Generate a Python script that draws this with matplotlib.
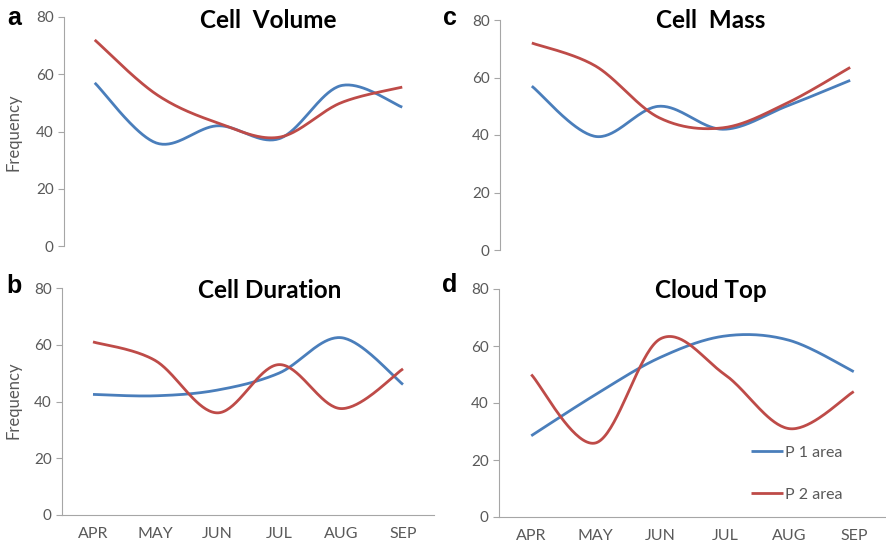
import numpy as np
import matplotlib
matplotlib.use("Agg")
import matplotlib.pyplot as plt

months = ["APR", "MAY", "JUN", "JUL", "AUG", "SEP"]

# values (frequency)
vol_p1 = [57, 36, 42, 37.5, 56, 48.5]
vol_p2 = [72, 53, 43, 38, 50, 55.5]
dur_p1 = [42.5, 42, 44, 50, 62.5, 46]
dur_p2 = [61, 54.5, 36, 53, 37.5, 51.5]
mass_p1 = [57, 39.5, 50, 42, 50, 59]
mass_p2 = [72, 64, 46, 42.5, 51, 63.5]
top_p1 = [28.5, 43, 56, 63.5, 62, 51]
top_p2 = [50, 26, 62.5, 50, 31, 44]

BLUE = "#4A7EBB"
RED = "#BE4B48"
GREY = "#595959"
AXC = "#A6A6A6"

plt.rcParams['font.family'] = ['Lato', 'DejaVu Sans']


def smooth(y, n=40):
    # excel-style smoothed line (cubic bezier, catmull-rom control points)
    y = np.asarray(y, float)
    x = np.arange(len(y), dtype=float)
    yp = np.concatenate([[y[0]], y, [y[-1]]])
    xp = np.concatenate([[x[0]], x, [x[-1]]])
    t = np.linspace(0, 1, n)[:, None]
    xs, ys = [], []
    for i in range(len(y) - 1):
        j = i + 1
        px = [xp[j], xp[j] + (xp[j+1] - xp[j-1]) / 6, xp[j+1] - (xp[j+2] - xp[j]) / 6, xp[j+1]]
        py = [yp[j], yp[j] + (yp[j+1] - yp[j-1]) / 6, yp[j+1] - (yp[j+2] - yp[j]) / 6, yp[j+1]]
        b = [(1-t)**3, 3*(1-t)**2*t, 3*(1-t)*t**2, t**3]
        xs.append(sum(b[k] * px[k] for k in range(4)).ravel())
        ys.append(sum(b[k] * py[k] for k in range(4)).ravel())
    return np.concatenate(xs), np.concatenate(ys)


W, H = 887, 552
fig = plt.figure(figsize=(W/100, H/100), dpi=100)


def make_ax(x0, x1, y0, y80, bottom_axis):
    ax = fig.add_axes([x0/W, 1 - y0/H, (x1-x0)/W, (y0-y80)/H])
    ax.set_xlim(-0.5, 5.5)
    ax.set_ylim(0, 80)
    ax.set_yticks([0, 20, 40, 60, 80])
    for s in ["top", "right"]:
        ax.spines[s].set_visible(False)
    ax.spines["left"].set_color(AXC)
    ax.spines["bottom"].set_color(AXC)
    ax.tick_params(axis="y", colors=AXC, labelcolor=GREY, labelsize=11, length=4, width=0.8)
    if bottom_axis:
        ax.set_xticks(range(len(months)))
        ax.set_xticklabels(months)
        ax.tick_params(axis="x", length=0, labelcolor=GREY, labelsize=11.5, pad=9)
    else:
        ax.spines["bottom"].set_visible(False)
        ax.set_xticks([])
    return ax


panels = [
    (make_ax(64, 433, 246, 17, False), vol_p1, vol_p2),
    (make_ax(62, 434, 515, 288, True), dur_p1, dur_p2),
    (make_ax(500, 882, 250, 20, False), mass_p1, mass_p2),
    (make_ax(499, 886, 517, 289, True), top_p1, top_p2),
]

for ax, p1, p2 in panels:
    sx, sy = smooth(p1)
    ax.plot(sx, sy, color=BLUE, lw=2, label="P 1 area", solid_capstyle="butt")
    sx, sy = smooth(p2)
    ax.plot(sx, sy, color=RED, lw=2, label="P 2 area", solid_capstyle="butt")

panels[3][0].legend(loc="upper left", bbox_to_anchor=((737)/W, 1 - 431/H),
                    bbox_transform=fig.transFigure, frameon=False,
                    fontsize=11.5, handlelength=2.0, handletextpad=0.1,
                    labelspacing=1.75, labelcolor=GREY)

# titles
for x, y, s in [(268, 20, "Cell  Volume"), (270, 290, "Cell Duration"),
                (711, 20, "Cell  Mass"), (711, 291, "Cloud Top")]:
    fig.text(x/W, 1 - y/H, s, ha="center", va="center", fontsize=17.5, fontweight="bold")

# panel letters
for x, y, s in [(14, 18, "a"), (14, 286, "b"), (450, 18, "c"), (450, 285, "d")]:
    fig.text(x/W, 1 - y/H, s, ha="center", va="center", fontsize=18, fontweight="bold",
             family=["Liberation Sans", "DejaVu Sans"])

# y labels
for y in [132, 400]:
    fig.text(14/W, 1 - y/H, "Frequency", rotation=90, ha="center", va="center",
             fontsize=12, color=GREY)

fig.savefig("out.png", dpi=100)
